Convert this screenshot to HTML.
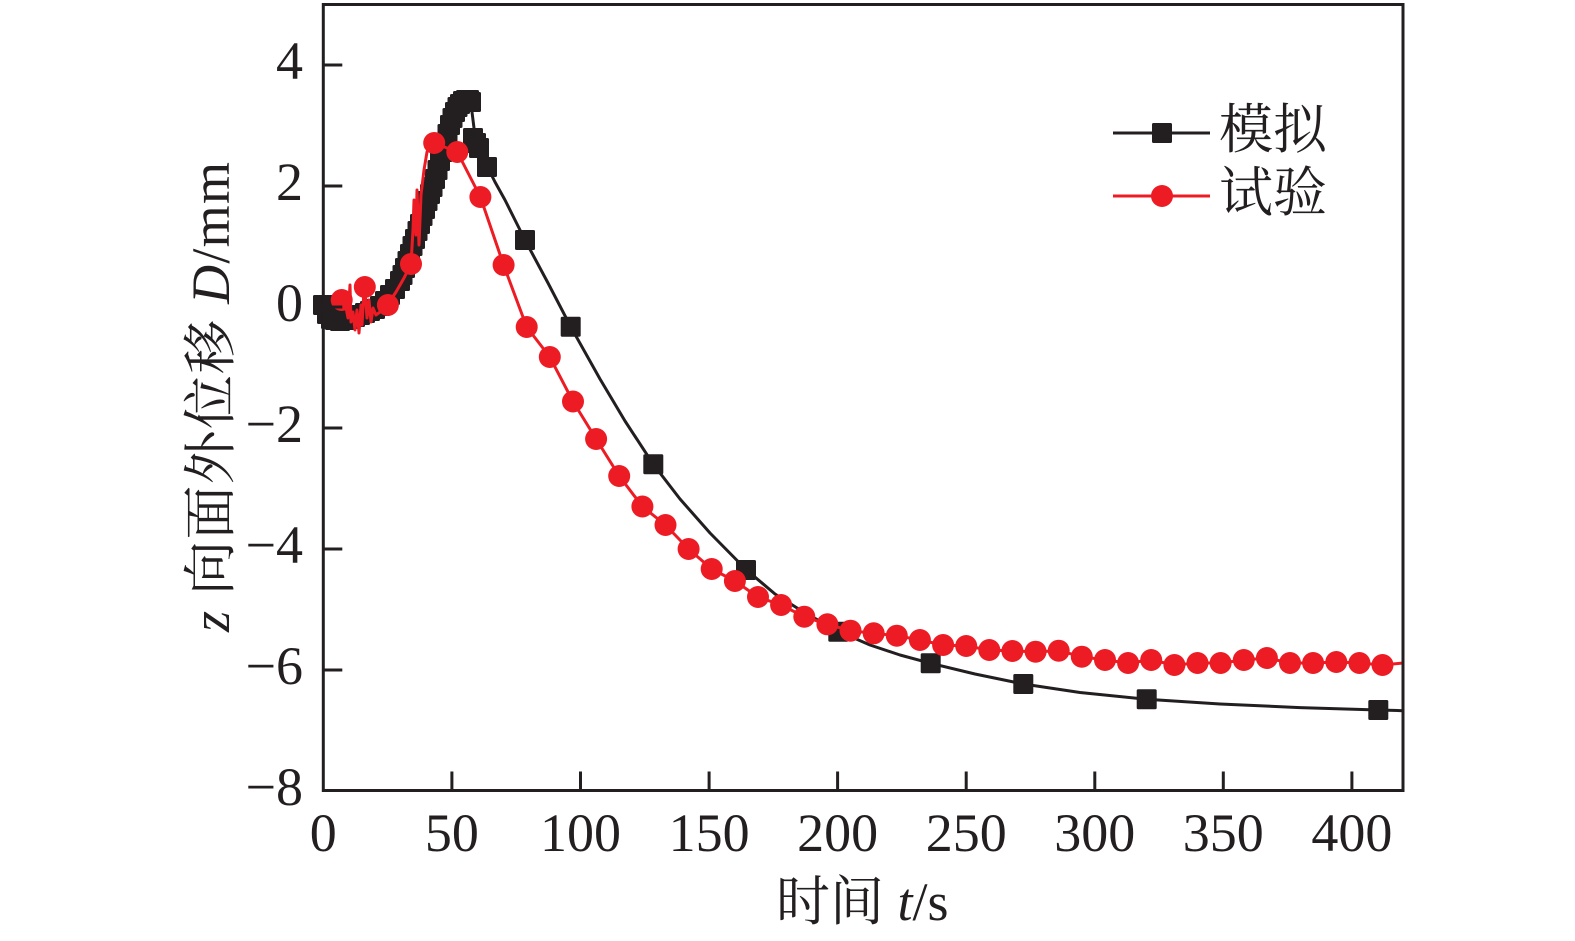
<!DOCTYPE html>
<html>
<head>
<meta charset="utf-8">
<style>
  html,body{margin:0;padding:0;background:#fff;}
  svg{display:block;}
  text{font-family:"Liberation Serif","Noto Serif CJK SC",serif;fill:#231f20;}
</style>
</head>
<body>
<svg width="1575" height="941" viewBox="0 0 1575 941" xmlns="http://www.w3.org/2000/svg">
  <rect x="0" y="0" width="1575" height="941" fill="#fff"/>

  <polyline fill="none" stroke="#231f20" stroke-width="3" stroke-linejoin="round"
    points="323,305 327,314 331,319 335,320 340,321 345,320 350,319 355,317 360,315 365,313 370,311 375,309 380,306 385,301 390,295 395,289 400,281 405,268 410,254 415,239 420,224 425,209 430,194 435,179 440,161 445,143 450,125 455,112 460,104 465,100 470,100 472,112 474,128 477,140 481,150 487,166 495,182 505,200 515,220 525,240 548,283 570.7,326.7 600,379 625,421 653.3,464.3 680,499 710,533 746,569.5 775,594 805,613 838.3,631.2 870,645 900,655 930.7,663.3 975,674 1023.3,684 1080,692.5 1146.7,699.3 1220,704 1300,707.6 1378.3,710 1403,710.7"/>

  <g fill="#231f20">
    <rect x="313" y="295" width="20" height="20" rx="1.5"/>
    <rect x="317" y="304" width="20" height="20" rx="1.5"/>
    <rect x="321" y="309" width="20" height="20" rx="1.5"/>
    <rect x="325" y="310" width="20" height="20" rx="1.5"/>
    <rect x="330" y="311" width="20" height="20" rx="1.5"/>
    <rect x="335" y="310" width="20" height="20" rx="1.5"/>
    <rect x="340" y="309" width="20" height="20" rx="1.5"/>
    <rect x="345" y="307" width="20" height="20" rx="1.5"/>
    <rect x="350" y="305" width="20" height="20" rx="1.5"/>
    <rect x="355" y="303" width="20" height="20" rx="1.5"/>
    <rect x="360" y="301" width="20" height="20" rx="1.5"/>
    <rect x="365" y="299" width="20" height="20" rx="1.5"/>
    <rect x="370" y="296" width="20" height="20" rx="1.5"/>
    <rect x="375" y="291" width="20" height="20" rx="1.5"/>
    <rect x="380" y="285" width="20" height="20" rx="1.5"/>
    <rect x="385" y="279" width="20" height="20" rx="1.5"/>
    <rect x="390" y="271" width="20" height="20" rx="1.5"/>
    <rect x="392.5" y="265" width="20" height="20" rx="1.5"/>
    <rect x="395" y="258" width="20" height="20" rx="1.5"/>
    <rect x="397.5" y="251" width="20" height="20" rx="1.5"/>
    <rect x="400" y="244" width="20" height="20" rx="1.5"/>
    <rect x="402.5" y="236" width="20" height="20" rx="1.5"/>
    <rect x="405" y="229" width="20" height="20" rx="1.5"/>
    <rect x="407.5" y="221" width="20" height="20" rx="1.5"/>
    <rect x="410" y="214" width="20" height="20" rx="1.5"/>
    <rect x="412.5" y="206" width="20" height="20" rx="1.5"/>
    <rect x="415" y="199" width="20" height="20" rx="1.5"/>
    <rect x="417.5" y="191" width="20" height="20" rx="1.5"/>
    <rect x="420" y="184" width="20" height="20" rx="1.5"/>
    <rect x="422.5" y="177" width="20" height="20" rx="1.5"/>
    <rect x="425" y="169" width="20" height="20" rx="1.5"/>
    <rect x="427.5" y="160" width="20" height="20" rx="1.5"/>
    <rect x="430" y="151" width="20" height="20" rx="1.5"/>
    <rect x="432.5" y="142" width="20" height="20" rx="1.5"/>
    <rect x="435" y="133" width="20" height="20" rx="1.5"/>
    <rect x="437.5" y="124" width="20" height="20" rx="1.5"/>
    <rect x="440" y="115" width="20" height="20" rx="1.5"/>
    <rect x="442.5" y="108" width="20" height="20" rx="1.5"/>
    <rect x="445" y="102" width="20" height="20" rx="1.5"/>
    <rect x="447.5" y="97" width="20" height="20" rx="1.5"/>
    <rect x="450" y="94" width="20" height="20" rx="1.5"/>
    <rect x="453" y="91" width="20" height="20" rx="1.5"/>
    <rect x="456" y="90" width="20" height="20" rx="1.5"/>
    <rect x="459" y="90" width="20" height="20" rx="1.5"/>
    <rect x="461" y="92" width="20" height="20" rx="1.5"/>
    <rect x="463" y="128" width="20" height="20" rx="1.5"/>
    <rect x="466" y="133" width="20" height="20" rx="1.5"/>
    <rect x="469" y="138" width="20" height="20" rx="1.5"/>
    <rect x="477" y="157" width="20" height="20" rx="1.5"/>
    <rect x="515" y="230" width="20" height="20" rx="1.5"/>
    <rect x="560.7" y="316.7" width="20" height="20" rx="1.5"/>
    <rect x="643.3" y="454.3" width="20" height="20" rx="1.5"/>
    <rect x="736" y="560" width="20" height="20" rx="1.5"/>
    <rect x="828.3" y="621.7" width="20" height="20" rx="1.5"/>
    <rect x="920.7" y="653.3" width="20" height="20" rx="1.5"/>
    <rect x="1013.3" y="674" width="20" height="20" rx="1.5"/>
    <rect x="1136.7" y="689.3" width="20" height="20" rx="1.5"/>
    <rect x="1368.3" y="700" width="20" height="20" rx="1.5"/>
  </g>

  <polyline fill="none" stroke="#ed1c24" stroke-width="3" stroke-linejoin="round"
    points="336,302 341.7,300 345,302 348,318 350,285 351,322 353,312 355,330 357,310 359,333 361,305 362,325 364,290 364.8,287 367,318 369,300 371,322 373,308 376,315 380,312 384,308 387.9,305 392,298 396,292 400,285 404,278 408,270 411,264 413,230 414,200 416,235 417,190 419,245 421,195 424,170 427,152 431,143 434.2,143 457.3,152 480.4,197 503.6,265 526.7,327 549.8,357 573,401.5 596.1,439 619.2,476 642.4,506.5 665.5,525 688.6,549 711.7,569 734.9,581 758,597 781.1,605 804.3,616.7 827.4,624.3 850.5,630.7 873.7,633.3 896.8,635.7 919.9,640 943.1,645 966.2,646 989.3,650 1012.4,651 1035.6,651.7 1058.7,650.7 1081.8,656.7 1105,660 1128.1,663 1151.2,660 1174.4,665 1197.5,663 1220.6,663 1243.8,660 1266.9,658 1290,663 1313.1,663 1336.3,662 1359.4,663 1382.5,665 1403,663"/>

  <g fill="#ed1c24">
    <circle cx="341.7" cy="300" r="11"/>
    <circle cx="364.8" cy="287" r="11"/>
    <circle cx="387.9" cy="305" r="11"/>
    <circle cx="411" cy="264" r="11"/>
    <circle cx="434.2" cy="143" r="11"/>
    <circle cx="457.3" cy="152" r="11"/>
    <circle cx="480.4" cy="197" r="11"/>
    <circle cx="503.6" cy="265" r="11"/>
    <circle cx="526.7" cy="327" r="11"/>
    <circle cx="549.8" cy="357" r="11"/>
    <circle cx="573" cy="401.5" r="11"/>
    <circle cx="596.1" cy="439" r="11"/>
    <circle cx="619.2" cy="476" r="11"/>
    <circle cx="642.4" cy="506.5" r="11"/>
    <circle cx="665.5" cy="525" r="11"/>
    <circle cx="688.6" cy="549" r="11"/>
    <circle cx="711.7" cy="569" r="11"/>
    <circle cx="734.9" cy="581" r="11"/>
    <circle cx="758" cy="597" r="11"/>
    <circle cx="781.1" cy="605" r="11"/>
    <circle cx="804.3" cy="616.7" r="11"/>
    <circle cx="827.4" cy="624.3" r="11"/>
    <circle cx="850.5" cy="630.7" r="11"/>
    <circle cx="873.7" cy="633.3" r="11"/>
    <circle cx="896.8" cy="635.7" r="11"/>
    <circle cx="919.9" cy="640" r="11"/>
    <circle cx="943.1" cy="645" r="11"/>
    <circle cx="966.2" cy="646" r="11"/>
    <circle cx="989.3" cy="650" r="11"/>
    <circle cx="1012.4" cy="651" r="11"/>
    <circle cx="1035.6" cy="651.7" r="11"/>
    <circle cx="1058.7" cy="650.7" r="11"/>
    <circle cx="1081.8" cy="656.7" r="11"/>
    <circle cx="1105" cy="660" r="11"/>
    <circle cx="1128.1" cy="663" r="11"/>
    <circle cx="1151.2" cy="660" r="11"/>
    <circle cx="1174.4" cy="665" r="11"/>
    <circle cx="1197.5" cy="663" r="11"/>
    <circle cx="1220.6" cy="663" r="11"/>
    <circle cx="1243.8" cy="660" r="11"/>
    <circle cx="1266.9" cy="658" r="11"/>
    <circle cx="1290" cy="663" r="11"/>
    <circle cx="1313.1" cy="663" r="11"/>
    <circle cx="1336.3" cy="662" r="11"/>
    <circle cx="1359.4" cy="663" r="11"/>
    <circle cx="1382.5" cy="665" r="11"/>
  </g>

  <rect x="323.3" y="4.5" width="1079.7" height="786" fill="none" stroke="#231f20" stroke-width="3"/>

  <g stroke="#231f20" stroke-width="3">
    <line x1="451.9" y1="790.5" x2="451.9" y2="771.5"/>
    <line x1="580.5" y1="790.5" x2="580.5" y2="771.5"/>
    <line x1="709.1" y1="790.5" x2="709.1" y2="771.5"/>
    <line x1="837.6" y1="790.5" x2="837.6" y2="771.5"/>
    <line x1="966.2" y1="790.5" x2="966.2" y2="771.5"/>
    <line x1="1094.8" y1="790.5" x2="1094.8" y2="771.5"/>
    <line x1="1223.3" y1="790.5" x2="1223.3" y2="771.5"/>
    <line x1="1351.9" y1="790.5" x2="1351.9" y2="771.5"/>
    <line x1="323.3" y1="65" x2="342.3" y2="65"/>
    <line x1="323.3" y1="186" x2="342.3" y2="186"/>
    <line x1="323.3" y1="307" x2="342.3" y2="307"/>
    <line x1="323.3" y1="428" x2="342.3" y2="428"/>
    <line x1="323.3" y1="549" x2="342.3" y2="549"/>
    <line x1="323.3" y1="670" x2="342.3" y2="670"/>
  </g>

  <g font-size="54" text-anchor="middle">
    <text x="323.3" y="851">0</text>
    <text x="451.9" y="851">50</text>
    <text x="580.5" y="851">100</text>
    <text x="709.1" y="851">150</text>
    <text x="837.6" y="851">200</text>
    <text x="966.2" y="851">250</text>
    <text x="1094.8" y="851">300</text>
    <text x="1223.3" y="851">350</text>
    <text x="1351.9" y="851">400</text>
  </g>

  <g font-size="54" text-anchor="end">
    <text x="303" y="79">4</text>
    <text x="303" y="200">2</text>
    <text x="303" y="321">0</text>
    <text x="303" y="442">−2</text>
    <text x="303" y="563">−4</text>
    <text x="303" y="684">−6</text>
    <text x="303" y="805">−8</text>
  </g>

  <text x="776" y="920" font-size="54">时间 <tspan font-style="italic">t</tspan>/s</text>
  <text transform="translate(229,397) rotate(-90)" font-size="54" text-anchor="middle" textLength="470" lengthAdjust="spacing"><tspan font-style="italic">z</tspan> 向面外位移 <tspan font-style="italic">D</tspan>/mm</text>

  <line x1="1113" y1="133" x2="1210" y2="133" stroke="#231f20" stroke-width="3"/>
  <rect x="1152" y="123" width="20" height="20" rx="1.5" fill="#231f20"/>
  <text x="1219" y="148" font-size="54">模拟</text>
  <line x1="1113" y1="196" x2="1210" y2="196" stroke="#ed1c24" stroke-width="3"/>
  <circle cx="1162" cy="196" r="11" fill="#ed1c24"/>
  <text x="1219" y="211" font-size="54">试验</text>
</svg>
</body>
</html>
